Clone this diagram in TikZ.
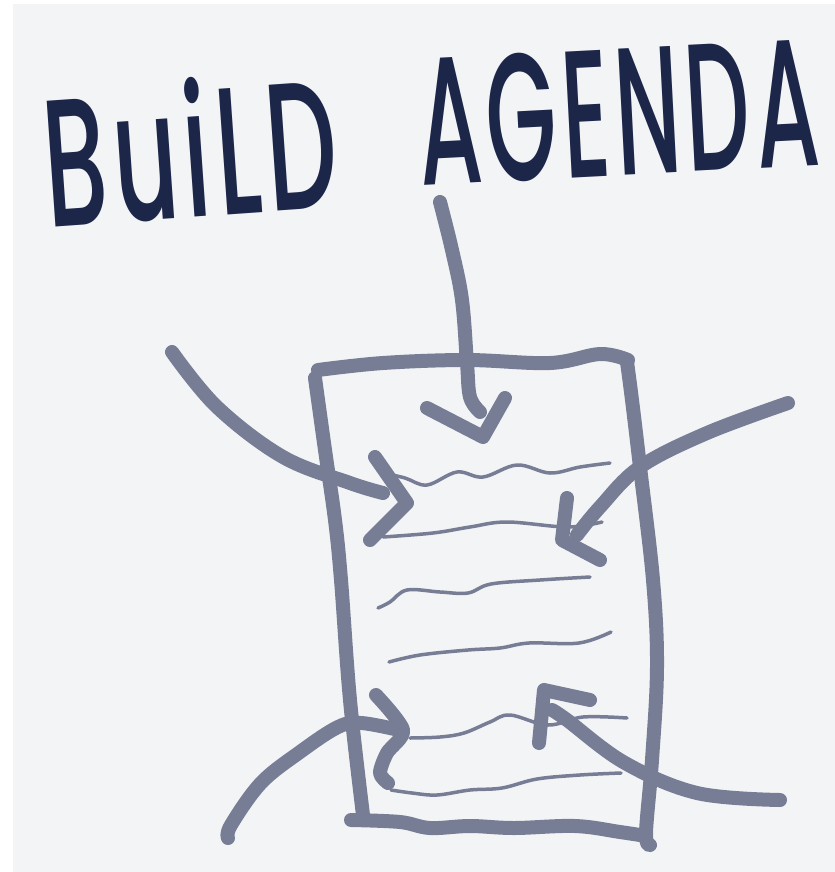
\documentclass[tikz,border=0pt]{standalone}
\usepackage{fontspec}
\setmainfont{Poppins}
\newfontfamily\titlefont{Poppins Medium}[LetterSpace=6]
\usepackage{graphicx}
\usepackage{tikz}
\definecolor{AGPaper}{HTML}{F3F4F6}
\definecolor{AGInk}  {HTML}{1C2649}
\definecolor{AGSlate}{HTML}{787D96}
\tikzset{
  pen/.style={draw=AGSlate,line width=14bp,line cap=round,line join=round},
  wave/.style={draw=AGSlate,line width=3.5bp,line cap=round,line join=round},
  title/.style={font=\fontsize{182}{182}\selectfont\titlefont,text=AGInk,inner sep=0pt},
}

\begin{document}
\begin{tikzpicture}[x=1bp,y=-1bp]
    % Paper
    \fill[white]   (0,0) rectangle (835,872);
    \fill[AGPaper] (13,4) rectangle (835,872);
    \useasboundingbox (0,0) rectangle (835,872);
    % Title
    \node[title,rotate=4] (build)  at (190,148) {\scalebox{0.55}[1]{BuiLD}};
    \node[title,rotate=3] (agenda) at (618,112) {\scalebox{0.5}[1]{AGENDA}};
    % Sheet outline
    \draw[pen] plot[smooth,tension=0.6] coordinates {(318,370) (383,363) (467,360) (550,363) (600,354) (628,360)};
    \draw[pen] plot[smooth,tension=0.6] coordinates {(315,378) (325,450) (335,520) (341,580) (350,700) (363,815)};
    \draw[pen] plot[smooth,tension=0.6] coordinates {(627,362) (632,400) (640,467) (653,580) (657,667) (652,760) (646,833) (650,845)};
    \draw[pen] plot[smooth,tension=0.6] coordinates {(351,820) (400,822) (430,828) (470,826) (514,828) (575,826) (620,832) (646,836)};
    % Text lines
    \draw[wave] plot[smooth,tension=0.6] coordinates {(383,473) (405,478) (427,485) (457,472) (483,477) (517,465) (550,473) (580,467) (610,463)};
    \draw[wave] plot[smooth,tension=0.6] coordinates {(383,537) (433,533) (470,527) (507,522) (567,527) (602,522)};
    \draw[wave] plot[smooth,tension=0.6] coordinates {(378,608) (390,602) (407,590) (440,592) (468,593) (491,584) (540,580) (590,577)};
    \draw[wave] plot[smooth,tension=0.6] coordinates {(389,662) (420,655) (468,650) (500,648) (529,643) (579,643) (611,632)};
    \draw[wave] plot[smooth,tension=0.6] coordinates {(410,738) (440,737) (464,733) (490,722) (510,715) (548,725) (583,717) (627,718)};
    \draw[wave] plot[smooth,tension=0.6] coordinates {(391,790) (412,793) (437,795) (470,790) (502,788) (537,779) (580,775) (621,773)};
    % Arrow from top
    \draw[pen] plot[smooth,tension=0.6] coordinates {(440,202) (452,250) (462,300) (467,363) (470,397) (480,412)};
    \draw[pen] (427,408) -- (483,437) -- (505,398);
    % Arrow from upper left
    \draw[pen] plot[smooth,tension=0.6] coordinates {(172,352) (217,407) (283,457) (350,483) (383,493)};
    \draw[pen] (375,457) -- (407,503) -- (370,540);
    % Arrow from upper right
    \draw[pen] plot[smooth,tension=0.6] coordinates {(788,403) (707,433) (640,467) (600,507) (577,535)};
    \draw[pen] (567,498) -- (562,540) -- (600,560);
    % Arrow from lower left
    \draw[pen] plot[smooth,tension=0.6] coordinates {(228,838) (231,825) (261,783) (300,752) (338,727) (361,723) (399,730)};
    \draw[pen] plot[smooth,tension=0.5] coordinates {(376,695) (403,730) (387,753) (380,773) (388,783)};
    % Arrow from lower right
    \draw[pen] plot[smooth,tension=0.6] coordinates {(780,800) (697,793) (625,763) (567,720) (552,710)};
    \draw[pen] (539,743) -- (544,690) -- (590,700);
\end{tikzpicture}
\end{document}
